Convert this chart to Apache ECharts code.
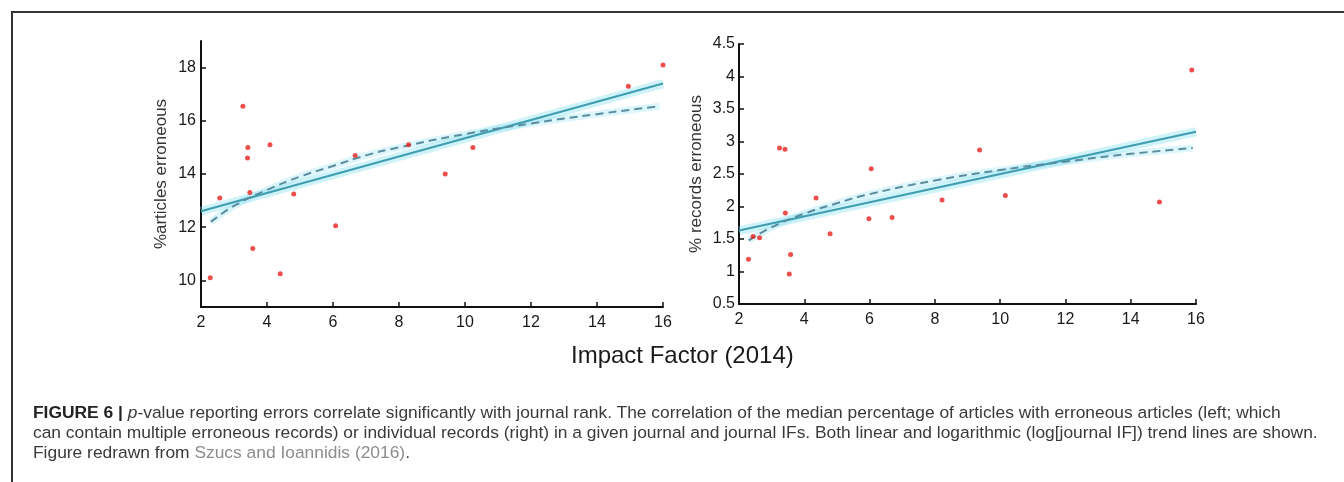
<!DOCTYPE html>
<html>
<head>
<meta charset="utf-8">
<script src="https://cdn.jsdelivr.net/npm/echarts@6/dist/echarts.min.js"></script>
<style>
    body { margin: 0; background: #fff; }
    #frame { position: absolute; left: 11px; top: 11px; width: 1333px; height: 471px;
             border-top: 2px solid #333; border-left: 2px solid #333; }
    #charts { position: absolute; left: 0; top: 0; width: 1344px; height: 482px; }
    #caption { position: absolute; left: 33px; top: 402px; font-family: "Liberation Sans", Arial, sans-serif;
               font-size: 17.4px; line-height: 20px; color: #3a3a3a; white-space: nowrap; }
    #caption b { color: #222; }
    #caption .ref { color: #8c8c8c; }
</style>
</head>
<body>
<div id="frame"></div>
<div id="charts"></div>
<div id="caption">
<b>FIGURE 6 |</b> <i>p</i>-value reporting errors correlate significantly with journal rank. The correlation of the median percentage of articles with erroneous articles (left; which<br>
can contain multiple erroneous records) or individual records (right) in a given journal and journal IFs. Both linear and logarithmic (log[journal IF]) trend lines are shown.<br>
Figure redrawn from <span class="ref">Szucs and Ioannidis (2016)</span>.
</div>
<script>
"use strict";

// left panel: % articles erroneous vs impact factor
var articles_points = [
    [2.28, 10.1], [2.57, 13.1], [3.27, 16.55], [3.42, 15.0], [3.41, 14.6], [3.48, 13.3],
    [3.57, 11.2], [4.09, 15.1], [4.40, 10.25], [4.81, 13.25], [6.08, 12.05], [6.67, 14.7],
    [8.29, 15.1], [9.40, 14.0], [10.24, 15.0], [14.95, 17.3], [16.0, 18.1]
];
var articles_linear = [[2, 12.6], [16, 17.4]];
var articles_log = [
    [2.3, 12.2], [3, 12.8], [4, 13.4], [5, 13.9], [6, 14.3], [7, 14.7], [8, 15.0],
    [10, 15.5], [12, 15.9], [14, 16.25], [15.9, 16.55]
];
var articles_ticks = [10, 12, 14, 16, 18];

// right panel: % records erroneous vs impact factor
var records_points = [
    [2.29, 1.19], [2.43, 1.54], [2.63, 1.52], [3.24, 2.9], [3.41, 2.88], [3.42, 1.9],
    [3.58, 1.26], [3.54, 0.96], [4.36, 2.13], [4.79, 1.58], [5.98, 1.81], [6.05, 2.58],
    [6.69, 1.83], [8.22, 2.1], [9.37, 2.87], [10.16, 2.17], [14.88, 2.07], [15.87, 4.1]
];
var records_linear = [[2, 1.63], [16, 3.15]];
var records_log = [
    [2.3, 1.48], [3, 1.68], [4, 1.89], [5, 2.05], [6, 2.19], [8, 2.40],
    [10, 2.56], [12, 2.69], [14, 2.81], [15.9, 2.90]
];

var dom = document.getElementById("charts");
var myChart = echarts.init(dom);

var axis_line = { lineStyle: { color: '#111', width: 2 } };
var tick_label = { color: '#1a1a1a', fontSize: 16, fontFamily: 'Liberation Sans' };

function x_axis(grid) {
    return {
        type: 'value',
        gridIndex: grid,
        min: 2,
        max: 16,
        interval: 2,
        axisLine: axis_line,
        axisTick: { inside: true, length: 5, lineStyle: { color: '#111', width: 1.5 } },
        axisLabel: Object.assign({ margin: 8, showMinLabel: true, showMaxLabel: true }, tick_label),
        splitLine: { show: false }
    };
}

var halo = { color: 'rgba(120, 220, 240, 0.35)', width: 9 };

var option = {
    animation: false,
    title: {
        text: 'Impact Factor (2014)',
        left: 566,
        top: 339,
        textStyle: { color: '#1a1a1a', fontSize: 24, fontWeight: 'normal', fontFamily: 'Liberation Sans' }
    },
    grid: [
        { left: 201, right: 681, top: 41, bottom: 175 },
        { left: 739, right: 148, top: 44, bottom: 178 }
    ],
    xAxis: [x_axis(0), x_axis(1)],
    yAxis: [
        {
            type: 'value',
            gridIndex: 0,
            min: 9,
            max: 19,
            interval: 1,
            name: '%articles erroneous',
            nameLocation: 'middle',
            nameGap: 31,
            nameTextStyle: { color: '#333', fontSize: 17, fontFamily: 'Liberation Sans' },
            axisLine: axis_line,
            axisTick: { inside: true, length: 5, customValues: articles_ticks, lineStyle: { color: '#111', width: 1.5 } },
            axisLabel: Object.assign({ margin: 5, customValues: articles_ticks }, tick_label),
            splitLine: { show: false }
        },
        {
            type: 'value',
            gridIndex: 1,
            min: 0.5,
            max: 4.5,
            interval: 0.5,
            name: '% records erroneous',
            nameLocation: 'middle',
            nameGap: 34,
            nameTextStyle: { color: '#333', fontSize: 17, fontFamily: 'Liberation Sans' },
            axisLine: axis_line,
            axisTick: { inside: true, length: 5, lineStyle: { color: '#111', width: 1.5 } },
            axisLabel: Object.assign({ margin: 4, showMinLabel: true, showMaxLabel: true }, tick_label),
            splitLine: { show: false }
        }
    ],
    series: [
        { type: 'line', xAxisIndex: 0, yAxisIndex: 0, data: articles_linear, symbol: 'none', lineStyle: halo, z: 1 },
        { type: 'line', xAxisIndex: 0, yAxisIndex: 0, data: articles_log, symbol: 'none', smooth: true, lineStyle: { color: 'rgba(120, 220, 240, 0.25)', width: 7 }, z: 1 },
        { type: 'line', xAxisIndex: 0, yAxisIndex: 0, data: articles_linear, symbol: 'none', lineStyle: { color: '#3f9db0', width: 2 }, z: 2 },
        { type: 'line', xAxisIndex: 0, yAxisIndex: 0, data: articles_log, symbol: 'none', smooth: true, lineStyle: { color: '#5b8d9e', width: 2, type: [8, 5] }, z: 2 },
        { type: 'scatter', xAxisIndex: 0, yAxisIndex: 0, data: articles_points, symbolSize: 5, itemStyle: { color: '#e8241f' }, z: 3 },

        { type: 'line', xAxisIndex: 1, yAxisIndex: 1, data: records_linear, symbol: 'none', lineStyle: halo, z: 1 },
        { type: 'line', xAxisIndex: 1, yAxisIndex: 1, data: records_log, symbol: 'none', smooth: true, lineStyle: { color: 'rgba(120, 220, 240, 0.25)', width: 7 }, z: 1 },
        { type: 'line', xAxisIndex: 1, yAxisIndex: 1, data: records_linear, symbol: 'none', lineStyle: { color: '#3f9db0', width: 2 }, z: 2 },
        { type: 'line', xAxisIndex: 1, yAxisIndex: 1, data: records_log, symbol: 'none', smooth: true, lineStyle: { color: '#5b8d9e', width: 2, type: [8, 5] }, z: 2 },
        { type: 'scatter', xAxisIndex: 1, yAxisIndex: 1, data: records_points, symbolSize: 5, itemStyle: { color: '#e8241f' }, z: 3 }
    ]
};

myChart.setOption(option);
</script>
</body>
</html>
